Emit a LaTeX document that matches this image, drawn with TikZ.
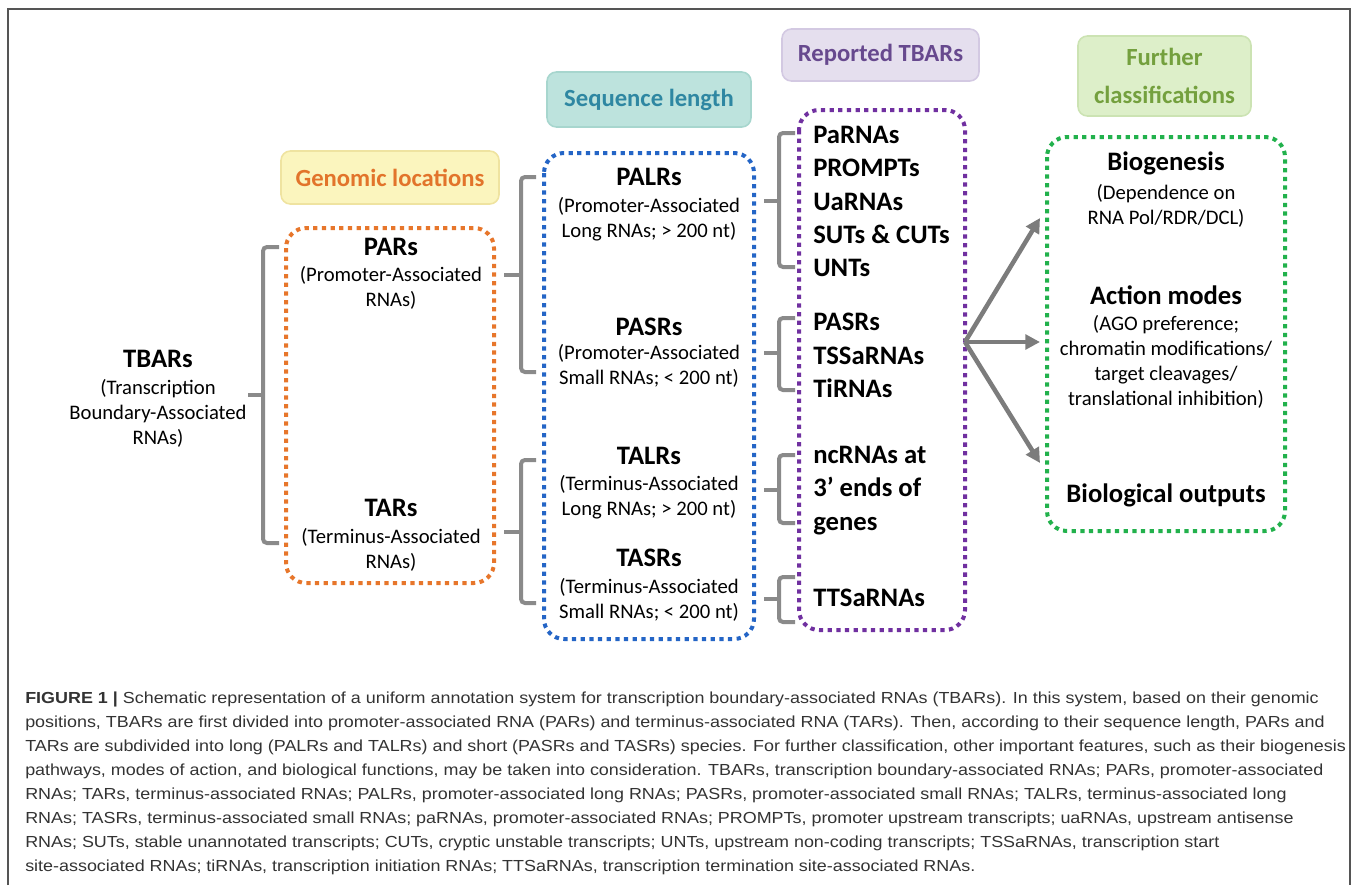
\documentclass[tikz,border=0pt]{standalone}
\usepackage{fontspec}
\setmainfont{Carlito}
\newfontfamily\capfont[FakeStretch=1.12]{Liberation Sans}
\usetikzlibrary{arrows.meta}
\definecolor{locfill}{HTML}{FBF5BE}
\definecolor{locedge}{HTML}{EFE3A0}
\definecolor{loctext}{HTML}{E2742B}
\definecolor{seqfill}{HTML}{BDE3DD}
\definecolor{seqedge}{HTML}{A7D6CE}
\definecolor{seqtext}{HTML}{2E87A2}
\definecolor{repfill}{HTML}{E5DFEE}
\definecolor{repedge}{HTML}{D3C9E2}
\definecolor{reptext}{HTML}{67498E}
\definecolor{furfill}{HTML}{DDEFC9}
\definecolor{furedge}{HTML}{CCE3B3}
\definecolor{furtext}{HTML}{74A03E}
\definecolor{dotorange}{HTML}{E7762B}
\definecolor{dotblue}{HTML}{2465C6}
\definecolor{dotpurple}{HTML}{7030A0}
\definecolor{dotgreen}{HTML}{22B14C}
\definecolor{brkgray}{HTML}{8A8A8A}
\definecolor{framegray}{HTML}{555555}

\begin{document}
\begin{tikzpicture}[
  x=0.75pt, y=-0.75pt,
  every node/.style={align=center},
  hdr/.style={rounded corners=7pt,line width=1.2pt,inner sep=0pt,
              font=\fontsize{18.5}{29}\selectfont\bfseries},
  ttl/.style={inner sep=0pt,font=\fontsize{20}{24}\selectfont\bfseries},
  desc/.style={inner sep=0pt,font=\fontsize{15.5}{18.75}\selectfont},
  lst/.style={inner sep=0pt,anchor=west,align=left,
              font=\fontsize{20}{25.1}\selectfont\bfseries},
  dotbox/.style={line width=3pt,dash pattern=on 3.2pt off 3.3pt,rounded corners=15pt},
  brk/.style={line width=3pt,brkgray,rounded corners=3pt},
  arr/.style={-{Triangle[length=11pt,width=11pt]},line width=3.4pt,brkgray!90!black}
]
\useasboundingbox (0,0) rectangle (1358,885);
\draw[framegray,line width=1.5pt] (8,885) -- (8,9) -- (1350,9) -- (1350,885);

% column headers
\node[hdr,fill=locfill,draw=locedge,text=loctext,minimum width=163.5pt,minimum height=39.75pt]
  (hloc) at (390,177.5) {Genomic locations};
\node[hdr,fill=seqfill,draw=seqedge,text=seqtext,minimum width=153pt,minimum height=41.25pt]
  (hseq) at (649,99.5) {Sequence length};
\node[hdr,fill=repfill,draw=repedge,text=reptext,minimum width=147.75pt,minimum height=39pt]
  (hrep) at (880.5,55) {Reported TBARs};
\node[hdr,fill=furfill,draw=furedge,text=furtext,minimum width=129.75pt,minimum height=60pt]
  (hfur) at (1164.5,76) {Further\\classifications};

% dotted groups
\draw[dotbox,dotorange] (286,228) rectangle (494,583);
\draw[dotbox,dotblue] (544,153) rectangle (754,639);
\draw[dotbox,dotpurple] (799,110) rectangle (965,630);
\draw[dotbox,dotgreen] (1047,137) rectangle (1285,531);

% TBARs
\node[ttl] (tbars) at (158,359) {TBARs};
\node[desc] (tbarsd) at (158,413) {(Transcription\\Boundary-Associated\\RNAs)};

% genomic locations
\node[ttl] (pars) at (391,247) {PARs};
\node[desc] (parsd) at (391,287.5) {(Promoter-Associated\\RNAs)};
\node[ttl] (tars) at (391,508) {TARs};
\node[desc] (tarsd) at (391,550) {(Terminus-Associated\\RNAs)};

% sequence length
\node[ttl] (palrs) at (649,177) {PALRs};
\node[desc] (palrsd) at (649,219.5) {(Promoter-Associated\\Long RNAs; > 200 nt)};
\node[ttl] (pasrs) at (649,327) {PASRs};
\node[desc] (pasrsd) at (649,365.5) {(Promoter-Associated\\Small RNAs; < 200 nt)};
\node[ttl] (talrs) at (649,456) {TALRs};
\node[desc] (talrsd) at (649,497) {(Terminus-Associated\\Long RNAs; > 200 nt)};
\node[ttl] (tasrs) at (649,558) {TASRs};
\node[desc] (tasrsd) at (649,599.5) {(Terminus-Associated\\Small RNAs; < 200 nt)};

% reported TBARs
\node[lst] (rpalr) at (813,201.5) {PaRNAs\\PROMPTs\\UaRNAs\\SUTs \& CUTs\\UNTs};
\node[lst] (rpasr) at (813,355.5) {PASRs\\TSSaRNAs\\TiRNAs};
\node[lst] (rtalr) at (813,490.5) {ncRNAs at\\3’ ends of\\genes};
\node[lst] (rtasr) at (813,598) {TTSaRNAs};

% further classifications
\node[ttl] (bio) at (1166,163) {Biogenesis};
\node[desc] (biod) at (1166,205.5) {(Dependence on\\RNA Pol/RDR/DCL)};
\node[ttl] (act) at (1166,295) {Action modes};
\node[desc] (actd) at (1166,362) {(AGO preference;\\chromatin modifications/\\target cleavages/\\translational inhibition)};
\node[ttl] (outp) at (1166,495) {Biological outputs};

% brackets
\coordinate (brA0) at (248,395); \coordinate (brA1) at (279,247); \coordinate (brA2) at (279,543);
\coordinate (brB0) at (504,275); \coordinate (brB1) at (536,177); \coordinate (brB2) at (536,372);
\coordinate (brC0) at (504,532); \coordinate (brC1) at (536,460); \coordinate (brC2) at (536,603);
\coordinate (brD0) at (764,201); \coordinate (brD1) at (795,133); \coordinate (brD2) at (795,267);
\coordinate (brE0) at (764,353); \coordinate (brE1) at (795,318); \coordinate (brE2) at (795,390);
\coordinate (brF0) at (764,490); \coordinate (brF1) at (795,455); \coordinate (brF2) at (795,523);
\coordinate (brG0) at (764,599); \coordinate (brG1) at (795,577); \coordinate (brG2) at (795,622);

\draw[brk] (brA1) -- ++(-16,0) |- (brA2);
\draw[brk] (brA0) -- ++(15,0);
\draw[brk] (brB1) -- ++(-15,0) |- (brB2);
\draw[brk] (brB0) -- ++(17,0);
\draw[brk] (brC1) -- ++(-15,0) |- (brC2);
\draw[brk] (brC0) -- ++(17,0);
\draw[brk] (brD1) -- ++(-16,0) |- (brD2);
\draw[brk] (brD0) -- ++(15,0);
\draw[brk] (brE1) -- ++(-16,0) |- (brE2);
\draw[brk] (brE0) -- ++(15,0);
\draw[brk] (brF1) -- ++(-16,0) |- (brF2);
\draw[brk] (brF0) -- ++(15,0);
\draw[brk] (brG1) -- ++(-16,0) |- (brG2);
\draw[brk] (brG0) -- ++(15,0);

% arrows to further classifications
\coordinate (fork) at (965,342);
\coordinate (toBio) at (1040,218);
\coordinate (toAct) at (1040,342);
\coordinate (toOut) at (1040,463);
\draw[arr] (fork) -- (toBio);
\draw[arr] (fork) -- (toAct);
\draw[arr] (fork) -- (toOut);

% caption
\node[anchor=north west,align=left,inner sep=0pt,text=black!80,
      font=\capfont\fontsize{12}{18}\selectfont] (cap) at (25,692)
{\textbf{FIGURE 1 |} Schematic representation of a uniform annotation system for transcription boundary-associated RNAs (TBARs). In this system, based on their genomic\\
positions, TBARs are first divided into promoter-associated RNA (PARs) and terminus-associated RNA (TARs). Then, according to their sequence length, PARs and\\
TARs are subdivided into long (PALRs and TALRs) and short (PASRs and TASRs) species. For further classification, other important features, such as their biogenesis\\
pathways, modes of action, and biological functions, may be taken into consideration. TBARs, transcription boundary-associated RNAs; PARs, promoter-associated\\
RNAs; TARs, terminus-associated RNAs; PALRs, promoter-associated long RNAs; PASRs, promoter-associated small RNAs; TALRs, terminus-associated long\\
RNAs; TASRs, terminus-associated small RNAs; paRNAs, promoter-associated RNAs; PROMPTs, promoter upstream transcripts; uaRNAs, upstream antisense\\
RNAs; SUTs, stable unannotated transcripts; CUTs, cryptic unstable transcripts; UNTs, upstream non-coding transcripts; TSSaRNAs, transcription start\\
site-associated RNAs; tiRNAs, transcription initiation RNAs; TTSaRNAs, transcription termination site-associated RNAs.};
\end{tikzpicture}
\end{document}
